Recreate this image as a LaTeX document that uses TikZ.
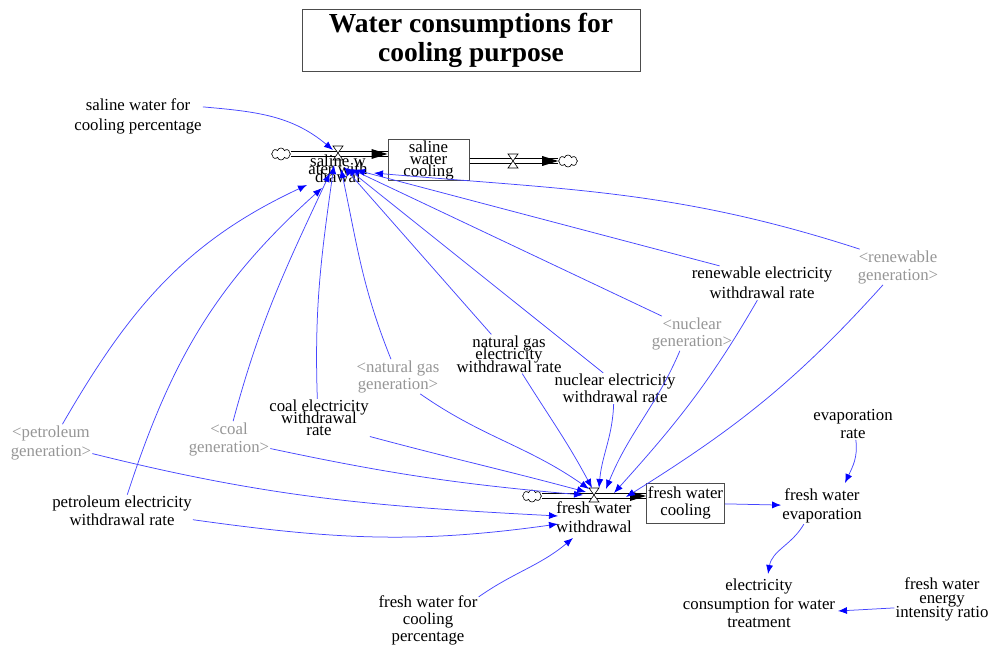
\documentclass[tikz,border=0pt]{standalone}
\usepackage{fontspec}
\setmainfont{Liberation Serif}
\usetikzlibrary{arrows.meta,shapes.symbols}
\definecolor{ghostc}{RGB}{150,150,150}
\definecolor{linkc}{RGB}{70,70,255}
\newcommand\vfs[1]{\fontsize{16.8}{#1}\selectfont\lineskiplimit=-50pt\relax}
\begin{document}
\begin{tikzpicture}[x=1pt,y=1pt,
  var/.style={align=center, inner sep=1pt, font=\vfs{18.5}},
  ghost/.style={var, text=ghostc},
  link/.style={draw=linkc, line width=0.75pt, -{Latex[length=9pt,width=7pt,color=blue]}},
  stockbox/.style={draw=black!70, line width=1pt, align=center, inner sep=0pt},
  pipeedge/.style={draw=black, line width=0.8pt},
  cloudn/.style={cloud, cloud puffs=8, aspect=1.6, draw, fill=white, minimum width=19pt, minimum height=12pt, inner sep=0pt, line width=0.6pt},
  vvalve/.pic={\draw[fill=white, line width=0.6pt] (-5,7) -- (5,7) -- (-5,-7) -- (5,-7) -- cycle;}
]
\useasboundingbox (0,0) rectangle (993,649);

% title
\node[draw=black!70, line width=1pt, minimum width=338, minimum height=61, align=center,
      font=\bfseries\fontsize{27.5}{29}\selectfont] (title) at (471,608.5) {Water consumptions for\\cooling purpose};

% stocks
\node[stockbox, minimum width=81, minimum height=41, font=\vfs{12}] (swc) at (428.5,488.5) {saline\\water\\cooling};
\node[stockbox, minimum width=78, minimum height=40, font=\vfs{17}] (fwc) at (685.5,146) {fresh water\\cooling};

% clouds
\node[cloudn] (c1) at (281,495) {};
\node[cloudn] (c2) at (568,488) {};
\node[cloudn] (c3) at (532,153) {};

% pipes (two parallel edges)
\draw[pipeedge] ([yshift=2.2pt]c1.east) -- ([yshift=2.2pt]swc.west |- c1);
\draw[pipeedge] ([yshift=-2.2pt]c1.east) -- ([yshift=-2.2pt]swc.west |- c1);
\fill (swc.west |- c1) -- ++(-16,5) -- ++(0,-10) -- cycle;
\draw[pipeedge] ([yshift=2.2pt]swc.east |- c2) -- ([yshift=2.2pt]c2.west);
\draw[pipeedge] ([yshift=-2.2pt]swc.east |- c2) -- ([yshift=-2.2pt]c2.west);
\fill (c2.west) -- ++(-16,5) -- ++(0,-10) -- cycle;
\draw[pipeedge] ([yshift=2.2pt]c3.east) -- ([yshift=2.2pt]fwc.west |- c3);
\draw[pipeedge] ([yshift=-2.2pt]c3.east) -- ([yshift=-2.2pt]fwc.west |- c3);
\fill (fwc.west |- c3) -- ++(-16,5) -- ++(0,-10) -- cycle;

% valves
\coordinate (v1) at (338,496);
\coordinate (v2) at (513,488);
\coordinate (v3) at (594,154);
\pic at (v1) {vvalve};
\pic at (v2) {vvalve};
\pic at (v3) {vvalve};

% flow labels
\node[var, font=\vfs{8}] (swl) at (338,480) {saline w\\ater with\\drawal};
\node[var, font=\vfs{19}] (fwl) at (594,131.5) {fresh water\\withdrawal};

% variables
\node[var, font=\vfs{20}] (swp) at (138,533) {saline water for\\cooling percentage};
\node[var, font=\vfs{20}] (rer) at (762,366) {renewable electricity\\withdrawal rate};
\node[ghost, font=\vfs{18}] (reg) at (898,382) {<renewable\\generation>};
\node[ghost, font=\vfs{17}] (nug) at (692,315.5) {<nuclear\\generation>};
\node[var, font=\vfs{12.5}] (nger) at (509,295) {natural gas\\electricity\\withdrawal rate};
\node[var, font=\vfs{17}] (nuer) at (615,260.5) {nuclear electricity\\withdrawal rate};
\node[ghost, font=\vfs{17}] (ngg) at (398,272.5) {<natural gas\\generation>};
\node[var, font=\vfs{12}] (coer) at (319,231) {coal electricity\\withdrawal\\rate};
\node[ghost, font=\vfs{18}] (cog) at (229,210) {<coal\\generation>};
\node[ghost, font=\vfs{19}] (peg) at (51,206.5) {<petroleum\\generation>};
\node[var, font=\vfs{18.5}] (peer) at (122,138) {petroleum electricity\\withdrawal rate};
\node[var, font=\vfs{17}] (fwcp) at (428,28.5) {fresh water for\\cooling\\percentage};
\node[var, font=\vfs{18}] (evr) at (853,225) {evaporation\\rate};
\node[var, font=\vfs{18.5}] (fwe) at (822,143) {fresh water\\evaporation};
\node[var, font=\vfs{18.5}] (ect) at (759,45.5) {electricity\\consumption for water\\treatment};
\node[var, font=\vfs{14}] (feir) at (942,49.5) {fresh water\\energy\\intensity ratio};

% arrow targets near saline water withdrawal
\coordinate (tswp) at (333,499);
\coordinate (tpeg) at (307,464);
\coordinate (tpeer) at (322,461);
\coordinate (tcog) at (330,476);
\coordinate (tcoer) at (334,484);
\coordinate (tngg) at (341,480);
\coordinate (tnger) at (344,482);
\coordinate (tnuer) at (347,481);
\coordinate (tnug) at (351,480);
\coordinate (trer) at (356,479);
\coordinate (treg) at (374,476);

% arrow targets near fresh water withdrawal
\coordinate (fpeg) at (558,133);
\coordinate (fpeer) at (558,125);
\coordinate (fcog) at (583,154);
\coordinate (fcoer) at (586,157);
\coordinate (fngg) at (589,160);
\coordinate (fnger) at (592,161);
\coordinate (fnuer) at (599,161);
\coordinate (fnug) at (606,160);
\coordinate (frer) at (614,156);
\coordinate (freg) at (626,152);
\coordinate (ffwcp) at (573,111);

% other targets
\coordinate (tfwe) at (845,166);
\coordinate (tect) at (768,75);
\coordinate (tect2) at (838,38);

% links to saline water withdrawal
\draw[link] (swp.8) to[out=-5,in=140] (tswp);
\draw[link] (peg.58) to[out=60,in=-155] (tpeg);
\draw[link] (peer.72) to[out=72,in=-138] (tpeer);
\draw[link] (cog.77) to[out=75,in=-115] (tcog);
\draw[link] (coer.95) to[out=92,in=-98] (tcoer);
\draw[link] (ngg.112) to[out=112,in=-78] (tngg);
\draw[link] (nger.132) -- (tnger);
\draw[link] (nuer.127) -- (tnuer);
\draw[link] (nug.150) -- (tnug);
\draw[link] (rer.158) -- (trer);
\draw[link] (reg.155) to[out=162,in=-5] (treg);

% links to fresh water withdrawal
\draw[link] (peg.-15) to[out=-14,in=177] (fpeg);
\draw[link] (peer.-7) to[out=-8,in=-172] (fpeer);
\draw[link] (cog.-13) to[out=-12,in=175] (fcog);
\draw[link] (coer.-20) to[out=-15,in=165] (fcoer);
\draw[link] (ngg.-38) to[out=-35,in=145] (fngg);
\draw[link] (nger.-56) to[out=-58,in=118] (fnger);
\draw[link] (nuer.-95) to[out=-92,in=85] (fnuer);
\draw[link] (nug.-125) to[out=-113,in=68] (fnug);
\draw[link] (rer.-105) to[out=-120,in=48] (frer);
\draw[link] (reg.-130) to[out=-132,in=32] (freg);
\draw[link] (fwcp.25) to[out=35,in=-140] (ffwcp);

% other links
\draw[link] (fwc) -- (fwe);
\draw[link] (evr.-80) to[out=-82,in=65] (tfwe);
\draw[link] (fwe.-135) to[out=-120,in=80] (tect);
\draw[link] (feir.-170) -- (tect2);
\end{tikzpicture}
\end{document}
